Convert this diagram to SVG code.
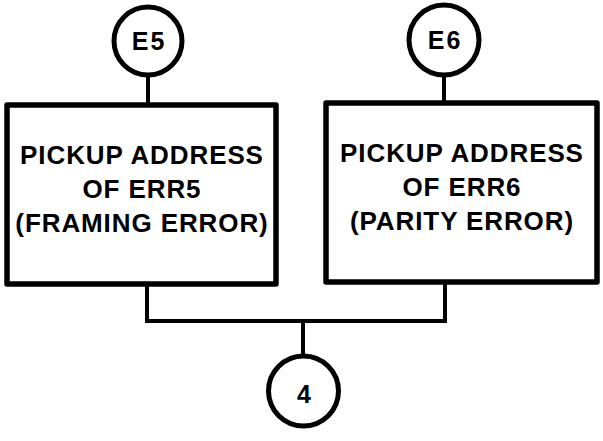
<svg xmlns="http://www.w3.org/2000/svg" width="603" height="441" viewBox="0 0 603 441">
<style>
.box{fill:#fff;stroke:#000;stroke-width:5.5;stroke-linejoin:round}
.circ{fill:#fff;stroke:#000;stroke-width:5}
.wire{fill:none;stroke:#000;stroke-width:4;stroke-linejoin:miter}
.t{font-family:"Liberation Sans",Arial,sans-serif;font-weight:bold;font-size:26px;letter-spacing:0.9px;text-anchor:middle;fill:#000}
.c{font-family:"Liberation Sans",Arial,sans-serif;font-weight:bold;font-size:25px;letter-spacing:2px;text-anchor:middle;fill:#000}
</style>
<rect width="603" height="441" fill="#fff"/>
<g id="connectors">
<path class="wire" d="M148 76V105"/>
<path class="wire" d="M444 74V103"/>
<path class="wire" d="M147 284V321H445V282"/>
<path class="wire" d="M303 321V357"/>
</g>
<g id="E5">
<circle class="circ" cx="148" cy="41" r="34"/>
<text class="c" x="149" y="50">E5</text>
</g>
<g id="E6">
<circle class="circ" cx="444" cy="40" r="35"/>
<text class="c" x="445" y="49">E6</text>
</g>
<g id="err5">
<rect class="box" x="7" y="105" width="269" height="179"/>
<text class="t" x="142" y="164">PICKUP ADDRESS</text>
<text class="t" x="142" y="198">OF ERR5</text>
<text class="t" x="142" y="232">(FRAMING ERROR)</text>
</g>
<g id="err6">
<rect class="box" x="326" y="103" width="271" height="179"/>
<text class="t" x="462" y="162">PICKUP ADDRESS</text>
<text class="t" x="462" y="196">OF ERR6</text>
<text class="t" x="462" y="230">(PARITY ERROR)</text>
</g>
<g id="n4">
<circle class="circ" cx="303.5" cy="391" r="35"/>
<text class="c" x="305" y="403">4</text>
</g>
</svg>
